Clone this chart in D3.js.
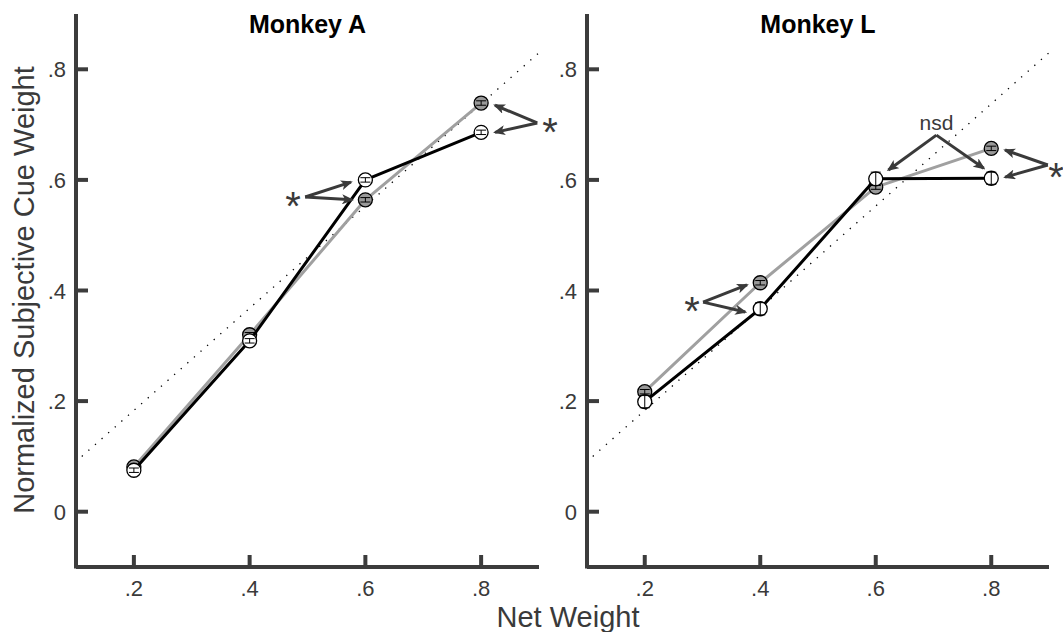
<!DOCTYPE html>
<html lang="en">
<head>
<meta charset="utf-8">
<title>Normalized Subjective Cue Weight</title>
<script src="https://cdn.jsdelivr.net/npm/d3@7"></script>
<style>
  body { margin: 0; background: #fff; }
  svg { font-family: "Liberation Sans", Arial, sans-serif; }
  .title { font-size: 25px; font-weight: bold; fill: #000; text-anchor: middle; }
  .axlabel { font-size: 29px; fill: #3a3a3a; text-anchor: middle; }
  .note { fill: #3a3a3a; text-anchor: middle; }
  .ticklab { font-size: 22px; fill: #3a3a3a; }
</style>
</head>
<body>
<script>
// data
var netWeight = [0.2, 0.4, 0.6, 0.8];
var xTicks = [0.2, 0.4, 0.6, 0.8];
var xTickLabels = [".2", ".4", ".6", ".8"];
var yTicks = [0, 0.2, 0.4, 0.6, 0.8];
var yTickLabels = ["0", ".2", ".4", ".6", ".8"];

var monkeyA_gray  = [0.081, 0.320, 0.564, 0.739];
var monkeyA_grayErr  = [0.004, 0.004, 0.004, 0.004];
var monkeyA_black = [0.075, 0.309, 0.600, 0.686];
var monkeyA_blackErr = [0.004, 0.004, 0.004, 0.004];

var monkeyL_gray  = [0.217, 0.414, 0.587, 0.657];
var monkeyL_grayErr  = [0.004, 0.004, 0.004, 0.004];
var monkeyL_black = [0.199, 0.367, 0.602, 0.603];
var monkeyL_blackErr = [0.011, 0.011, 0.012, 0.011];

// reference dotted line (data units)
var refLine = [[0.11, 0.10], [0.9, 0.83]];

// annotations in data units: label, label pos, apex, two arrow tips
var notesA = [
  {text: "*", at: [0.475, 0.569], apex: [0.496, 0.569], tips: [[0.575, 0.596], [0.577, 0.564]]},
  {text: "*", at: [0.919, 0.703], apex: [0.897, 0.703], tips: [[0.824, 0.735], [0.824, 0.686]]}
];
var notesL = [
  {text: "*", at: [0.282, 0.378], apex: [0.301, 0.379], tips: [[0.377, 0.410], [0.374, 0.361]]},
  {text: "nsd", at: [0.705, 0.703], apex: [0.705, 0.681], tips: [[0.622, 0.618], [0.787, 0.621]]},
  {text: "*", at: [0.912, 0.621], apex: [0.898, 0.627], tips: [[0.824, 0.654], [0.824, 0.605]]}
];

var w = 1063, h = 632;
var axisColor = "#3c3c3c", textColor = "#3a3a3a";
var svg = d3.select("body").append("svg").attr("width", w).attr("height", h);

var defs = svg.append("defs");
defs.append("marker").attr("id", "ah")
    .attr("viewBox", "0 0 12 10").attr("refX", 10).attr("refY", 5)
    .attr("markerWidth", 12).attr("markerHeight", 10)
    .attr("markerUnits", "userSpaceOnUse").attr("orient", "auto")
  .append("path").attr("d", "M0,0 L12,5 L0,10 L3,5 z").attr("fill", textColor);

var y = d3.scaleLinear().domain([-0.1, 0.9]).range([567, 14]);

var panels = [
  {title: "Monkey A", range: [76, 539], gray: monkeyA_gray, grayErr: monkeyA_grayErr,
   black: monkeyA_black, blackErr: monkeyA_blackErr, notes: notesA},
  {title: "Monkey L", range: [587, 1049], gray: monkeyL_gray, grayErr: monkeyL_grayErr,
   black: monkeyL_black, blackErr: monkeyL_blackErr, notes: notesL}
];

panels.forEach(function(p) {
  var x = d3.scaleLinear().domain([0.1, 0.9]).range(p.range);
  var g = svg.append("g");
  var x0 = x.range()[0], x1 = x.range()[1], yb = y.range()[0], yt = y.range()[1];

  g.append("text").attr("class", "title")
    .attr("x", (x0 + x1) / 2).attr("y", 33).text(p.title);

  // dotted reference
  g.append("path")
    .attr("d", d3.line().x(function(d) { return x(d[0]); }).y(function(d) { return y(d[1]); })(refLine))
    .attr("fill", "none").attr("stroke", "#000").attr("stroke-width", 1.3)
    .attr("stroke-dasharray", "1.3,7.5");

  function drawSeries(vals, errs, lineColor) {
    var pts = netWeight.map(function(v, i) { return {x: v, y: vals[i], e: errs[i]}; });
    g.append("path")
      .attr("d", d3.line().x(function(d) { return x(d.x); }).y(function(d) { return y(d.y); })(pts))
      .attr("fill", "none").attr("stroke", lineColor).attr("stroke-width", 3)
      .attr("stroke-linejoin", "round");
    return pts;
  }

  function drawMarkers(pts, fill) {
    var m = g.append("g").selectAll("g").data(pts).enter().append("g");
    m.append("circle").attr("cx", function(d) { return x(d.x); }).attr("cy", function(d) { return y(d.y); })
      .attr("r", 7).attr("fill", fill).attr("stroke", "#000").attr("stroke-width", 1.3);
    m.append("line").attr("x1", function(d) { return x(d.x); }).attr("x2", function(d) { return x(d.x); })
      .attr("y1", function(d) { return y(d.y - d.e); }).attr("y2", function(d) { return y(d.y + d.e); })
      .attr("stroke", "#000").attr("stroke-width", 1);
    [-1, 1].forEach(function(s) {
      m.append("line").attr("x1", function(d) { return x(d.x) - 5; }).attr("x2", function(d) { return x(d.x) + 5; })
        .attr("y1", function(d) { return y(d.y + s * d.e); }).attr("y2", function(d) { return y(d.y + s * d.e); })
        .attr("stroke", "#000").attr("stroke-width", 1);
    });
  }

  var grayPts = drawSeries(p.gray, p.grayErr, "#a0a0a0");
  drawMarkers(grayPts, "#999");
  var blackPts = drawSeries(p.black, p.blackErr, "#000");
  drawMarkers(blackPts, "#fff");

  // annotations
  p.notes.forEach(function(n) {
    n.tips.forEach(function(t) {
      g.append("line")
        .attr("x1", x(n.apex[0])).attr("y1", y(n.apex[1]))
        .attr("x2", x(t[0])).attr("y2", y(t[1]))
        .attr("stroke", textColor).attr("stroke-width", 3)
        .attr("marker-end", "url(#ah)");
    });
    var isStar = n.text === "*";
    var fs = isStar ? 40 : 21;
    g.append("text").attr("class", "note")
      .attr("x", x(n.at[0]))
      .attr("y", y(n.at[1]) + (isStar ? 0.57 * fs : 0.35 * fs))
      .style("font-size", fs + "px")
      .text(n.text);
  });

  // axes
  var ax = g.append("g");
  ax.append("line").attr("x1", x0).attr("x2", x0).attr("y1", yt).attr("y2", yb + 1.5)
    .attr("stroke", axisColor).attr("stroke-width", 4);
  ax.append("line").attr("x1", x0).attr("x2", x1).attr("y1", yb).attr("y2", yb)
    .attr("stroke", axisColor).attr("stroke-width", 4);

  ax.selectAll(".ytick").data(yTicks).enter().append("line")
    .attr("x1", x0).attr("x2", x0 + 12)
    .attr("y1", function(d) { return y(d); }).attr("y2", function(d) { return y(d); })
    .attr("stroke", axisColor).attr("stroke-width", 4);
  ax.selectAll(".ylab").data(yTicks).enter().append("text").attr("class", "ticklab")
    .attr("x", x0 - 10).attr("y", function(d) { return y(d) + 8; })
    .attr("text-anchor", "end")
    .text(function(d, i) { return yTickLabels[i]; });

  ax.selectAll(".xtick").data(xTicks).enter().append("line")
    .attr("x1", function(d) { return x(d); }).attr("x2", function(d) { return x(d); })
    .attr("y1", yb).attr("y2", yb - 12)
    .attr("stroke", axisColor).attr("stroke-width", 4);
  ax.selectAll(".xlab").data(xTicks).enter().append("text").attr("class", "ticklab")
    .attr("x", function(d) { return x(d); }).attr("y", yb + 29)
    .attr("text-anchor", "middle")
    .text(function(d, i) { return xTickLabels[i]; });
});

svg.append("text").attr("class", "axlabel")
  .attr("transform", "translate(34,290) rotate(-90)").text("Normalized Subjective Cue Weight");

svg.append("text").attr("class", "axlabel")
  .attr("x", 568).attr("y", 627).text("Net Weight");
</script>
</body>
</html>
